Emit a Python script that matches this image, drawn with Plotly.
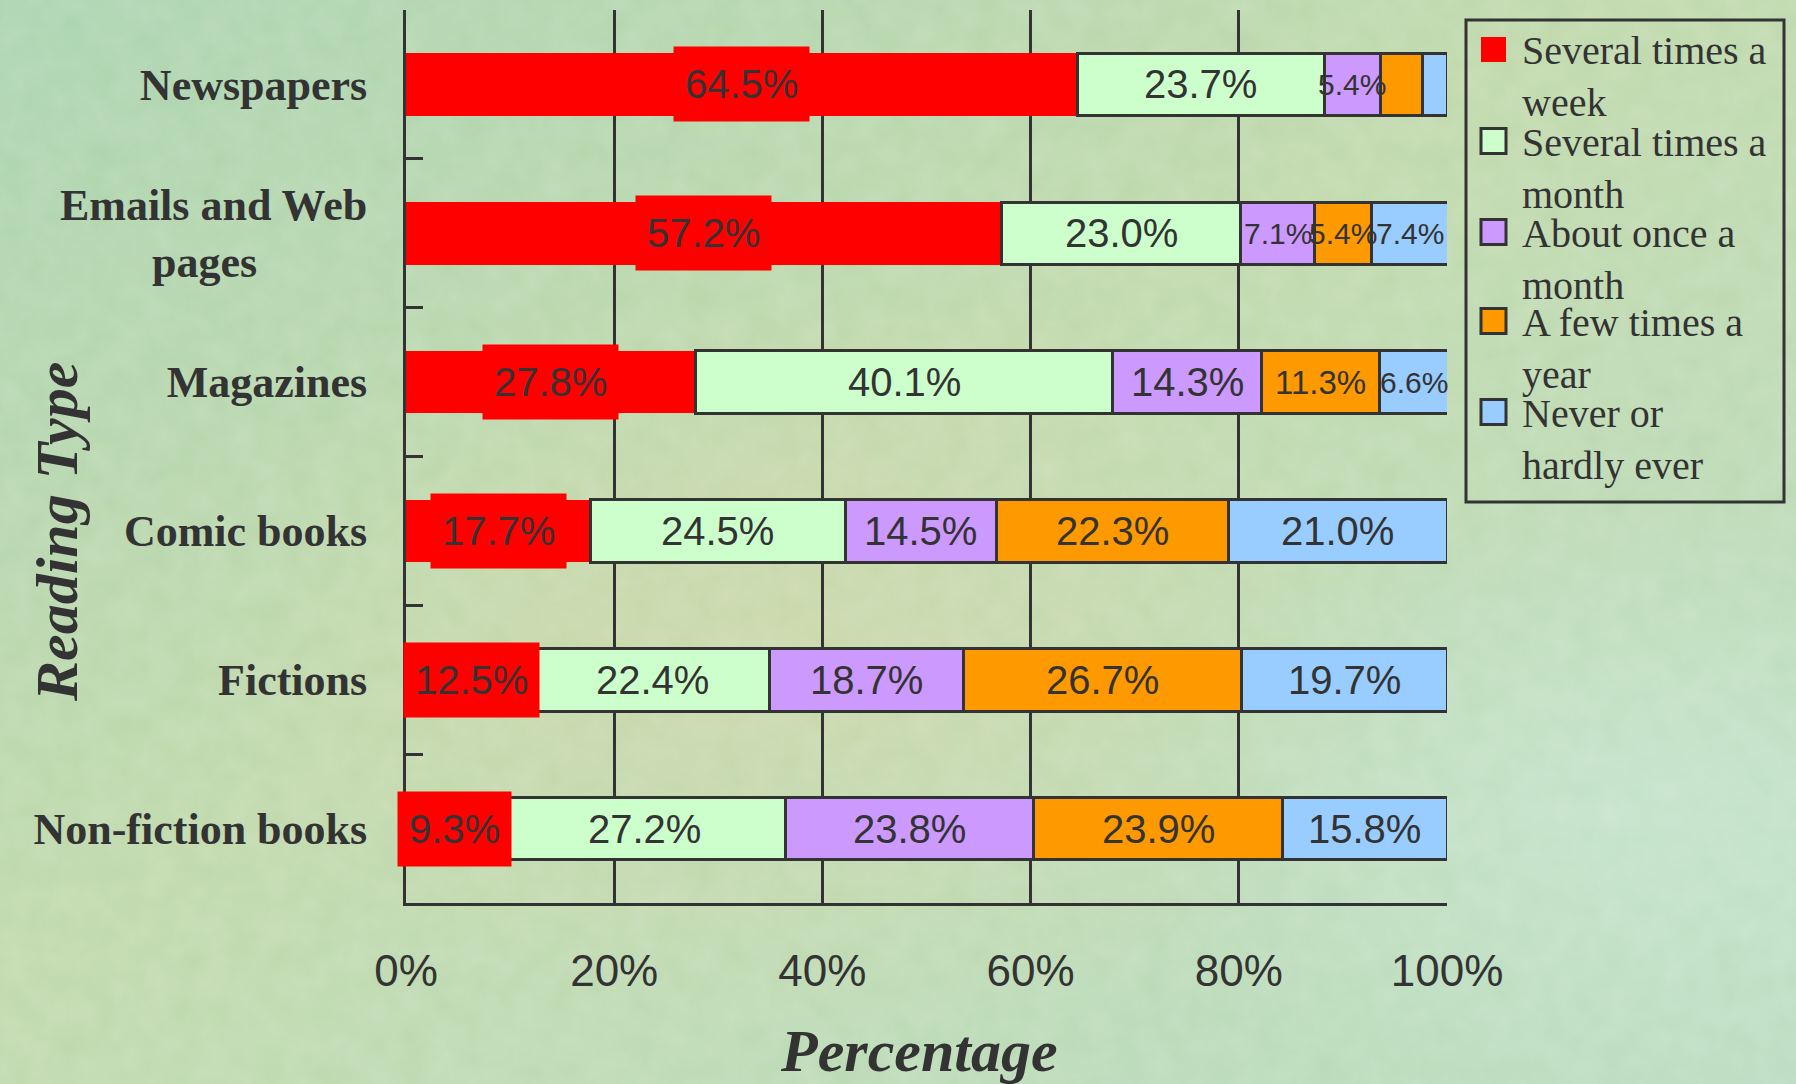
import base64
import plotly.graph_objects as go

# ---------------- data ----------------
categories = ["Newspapers", "Emails and Web pages", "Magazines",
              "Comic books", "Fictions", "Non-fiction books"]
category_labels = ["Newspapers", "Emails and Web<br>pages" + "\u00a0" * 10, "Magazines",
                   "Comic books", "Fictions", "Non-fiction books"]
series_names = ["Several times a week", "Several times a month", "About once a month",
                "A few times a year", "Never or hardly ever"]
legend_labels = ["Several times a<br>week", "Several times a<br>month", "About once a<br>month",
                 "A few times a<br>year", "Never or<br>hardly ever"]
several_times_week = [64.5, 57.2, 27.8, 17.7, 12.5, 9.3]
several_times_month = [23.7, 23.0, 40.1, 24.5, 22.4, 27.2]
about_once_month = [5.4, 7.1, 14.3, 14.5, 18.7, 23.8]
few_times_year = [4.0, 5.4, 11.3, 22.3, 26.7, 23.9]
never_hardly = [2.4, 7.4, 6.6, 21.0, 19.7, 15.8]
x_tick_values = [0, 20, 40, 60, 80, 100]
x_tick_labels = ["0%", "20%", "40%", "60%", "80%", "100%"]

series_values = [several_times_week, several_times_month, about_once_month,
                 few_times_year, never_hardly]
colors = ["#FF0000", "#CCFFCC", "#CC99FF", "#FF9900", "#99CCFF"]

# ---------------- layout helpers ----------------
W, H = 1796, 1084
PL, PR, PT, PB = 406, 1447, 10, 903
INK = "#333333"


def px(x):
    return (x - PL) / (PR - PL)


def py(y):
    return (PB - y) / (PB - PT)


def label_size(v):
    if v >= 14:
        return 40
    if v >= 10:
        return 33
    return 30


fig = go.Figure()
for i, (name, vals, col) in enumerate(zip(series_names, series_values, colors)):
    first = i == 0
    fig.add_trace(go.Bar(
        name=name, orientation="h", y=categories, x=vals,
        marker=dict(color=col, line=dict(color=col if first else INK, width=0 if first else 3)),
        showlegend=False, hovertemplate="%{y}: %{x:.1f}%<extra>" + name + "</extra>",
    ))

annotations = []
# value labels (centre of each stacked segment, computed from the data)
for i, vals in enumerate(series_values):
    for j, (cat, v) in enumerate(zip(categories, vals)):
        if v < 5:
            continue
        start = sum(series_values[k][j] for k in range(i))
        ann = dict(
            x=start + v / 2, y=cat, xref="x", yref="y", text=f"{v:.1f}%", showarrow=False,
            xanchor="center", yanchor="middle",
            font=dict(family="Liberation Sans", size=40 if i == 0 else label_size(v), color=INK),
        )
        if i == 0:
            ann.update(bgcolor="#FF0000", borderpad=11, height=52, valign="middle")
        annotations.append(ann)

# axis titles
annotations.append(dict(
    x=px(919), y=py(1051), xref="paper", yref="paper", text="Percentage",
    showarrow=False, xanchor="center", yanchor="middle",
    font=dict(family="Liberation Serif", size=60, color=INK, weight="bold", style="italic"),
))
annotations.append(dict(
    x=px(57), y=py(532), xref="paper", yref="paper", text="Reading Type",
    showarrow=False, xanchor="center", yanchor="middle", textangle=-90,
    font=dict(family="Liberation Serif", size=60, color=INK, weight="bold", style="italic"),
))

# manual legend
shapes = [dict(type="rect", xref="paper", yref="paper",
               x0=px(1466), x1=px(1784), y0=py(502), y1=py(20),
               line=dict(color=INK, width=3), fillcolor="rgba(0,0,0,0)")]
sym_centers = [49.5, 141, 232, 321, 412]
for i, (lab, col, cy) in enumerate(zip(legend_labels, colors, sym_centers)):
    shapes.append(dict(type="rect", xref="paper", yref="paper",
                       x0=px(1481), x1=px(1506), y0=py(cy + 12.5), y1=py(cy - 12.5),
                       fillcolor=col,
                       line=dict(color=col if i == 0 else INK, width=0 if i == 0 else 3)))
    annotations.append(dict(
        x=px(1520), y=py(cy - 23), xref="paper", yref="paper", text=lab,
        showarrow=False, xanchor="left", yanchor="top", align="left",
        font=dict(family="Liberation Serif", size=40, color=INK),
    ))

# background image (soft green gradient with a faint texture)
svg = f'''<svg xmlns="http://www.w3.org/2000/svg" width="{W}" height="{H}" viewBox="0 0 {W} {H}">
<defs>
<linearGradient id="g" x1="0" y1="0" x2="1" y2="1">
<stop offset="0" stop-color="#A9D3AE"/>
<stop offset="0.45" stop-color="#BFD8AA"/>
<stop offset="1" stop-color="#B6DBBE"/>
</linearGradient>
<radialGradient id="b" cx="0.45" cy="0.6" r="0.35">
<stop offset="0" stop-color="#D2D6A6" stop-opacity="0.55"/>
<stop offset="1" stop-color="#D2D6A6" stop-opacity="0"/>
</radialGradient>
<radialGradient id="c" cx="0.92" cy="0.75" r="0.3">
<stop offset="0" stop-color="#C6E4CE" stop-opacity="0.8"/>
<stop offset="1" stop-color="#C6E4CE" stop-opacity="0"/>
</radialGradient>
<filter id="n"><feTurbulence type="fractalNoise" baseFrequency="0.035" numOctaves="3" seed="3"/>
<feColorMatrix type="matrix" values="0 0 0 0 1  0 0 0 0 1  0 0 0 0 1  0 0 0 0.18 0"/></filter>
</defs>
<rect width="{W}" height="{H}" fill="url(#g)"/>
<rect width="{W}" height="{H}" fill="url(#b)"/>
<rect width="{W}" height="{H}" fill="url(#c)"/>
<rect width="{W}" height="{H}" filter="url(#n)"/>
</svg>'''
bg_src = "data:image/svg+xml;base64," + base64.b64encode(svg.encode()).decode()

fig.update_layout(
    width=W, height=H,
    margin=dict(l=PL, r=W - PR, t=PT, b=H - PB, pad=0),
    barmode="stack", bargap=0.58,
    paper_bgcolor="#B8D8B0", plot_bgcolor="rgba(0,0,0,0)",
    annotations=annotations, shapes=shapes,
    images=[dict(source=bg_src, xref="paper", yref="paper",
                 x=px(0), y=py(0), sizex=W / (PR - PL), sizey=H / (PB - PT),
                 xanchor="left", yanchor="top", sizing="stretch", layer="below")],
    showlegend=False,
)
fig.update_xaxes(
    range=[0, 100], tickvals=x_tick_values, ticktext=x_tick_labels,
    showgrid=True, gridcolor=INK, gridwidth=3, zeroline=False,
    showline=True, linecolor=INK, linewidth=3, ticks="",
    tickfont=dict(family="Liberation Sans", size=44, color=INK),
    ticklabelstandoff=27, fixedrange=True,
)
fig.update_yaxes(
    categoryorder="array", categoryarray=categories, autorange="reversed",
    tickvals=categories, ticktext=category_labels,
    showgrid=False, zeroline=False,
    showline=True, linecolor=INK, linewidth=3,
    ticks="inside", ticklen=17, tickwidth=3, tickcolor=INK, tickson="boundaries",
    tickfont=dict(family="Liberation Serif", size=44, color=INK, weight="bold"),
    ticklabelstandoff=27, fixedrange=True,
)

fig.write_html(
    "out.html",
    config={"displayModeBar": False},
    post_script="document.body.style.margin='0px';document.body.style.overflow='hidden';",
)
